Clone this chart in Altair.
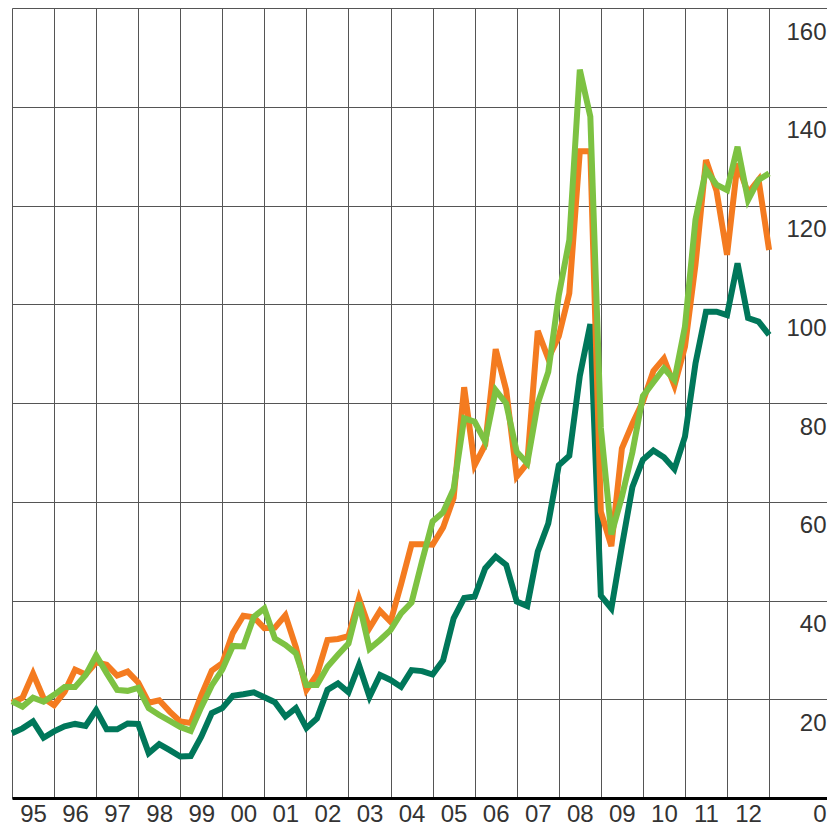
import altair as alt
import pandas as pd

# Quarterly observations, 1995 Q1 .. 2013 Q1 (73 points)
start_year = 1995
n_points = 73
periods = [start_year + i / 4 for i in range(n_points)]

orange = [19.3, 20.3, 25.2, 20.2, 18.8, 21.5, 26.0, 25.0, 27.5, 27.0,
          24.8, 25.6, 23.4, 19.3, 19.8, 17.5, 15.5, 15.2, 20.8, 25.8,
          27.3, 33.4, 36.9, 36.6, 34.4, 34.5, 37.0, 30.5, 21.9, 25.0,
          32.0, 32.2, 32.8, 40.4, 34.4, 37.9, 35.7, 43.3, 51.4, 51.4,
          51.3, 54.8, 60.8, 83.2, 67.4, 71.5, 90.9, 82.6, 65.1, 67.8,
          94.6, 89.0, 93.5, 102.2, 131.0, 131.0, 58.0, 51.0, 70.8, 75.8,
          80.3, 86.5, 89.0, 83.5, 91.4, 108.0, 129.2, 123.0, 110.0, 128.5,
          122.5, 125.2, 111.0]

light_green = [19.6, 18.5, 20.3, 19.5, 20.9, 22.5, 22.5, 24.9, 28.9, 25.3,
               21.9, 21.7, 22.3, 18.2, 16.8, 15.6, 14.4, 13.6, 18.4, 22.8,
               26.0, 30.8, 30.7, 36.7, 38.4, 32.3, 31.0, 29.3, 22.9, 22.9,
               26.6, 29.0, 31.3, 39.6, 30.2, 32.0, 34.0, 37.4, 39.6, 48.0,
               56.0, 57.9, 62.6, 76.9, 76.2, 72.2, 82.6, 79.9, 70.1, 67.8,
               79.9, 86.3, 101.8, 113.0, 147.5, 138.0, 75.0, 53.4, 61.0, 70.0,
               81.4, 84.2, 87.0, 84.7, 95.5, 117.1, 127.2, 124.2, 123.1, 131.9,
               121.1, 125.2, 126.5]

dark_green = [13.1, 14.1, 15.5, 12.2, 13.5, 14.5, 15.0, 14.6, 17.8, 13.9,
              13.9, 15.1, 15.0, 9.1, 10.9, 9.7, 8.4, 8.5, 12.4, 17.2,
              18.2, 20.7, 21.0, 21.4, 20.4, 19.4, 16.5, 18.2, 14.2, 16.1,
              21.9, 23.2, 21.4, 26.9, 20.5, 24.9, 23.9, 22.5, 25.9, 25.7,
              25.0, 27.9, 36.4, 40.5, 40.8, 46.5, 48.9, 47.2, 39.8, 38.9,
              49.9, 55.6, 67.4, 69.3, 85.5, 96.0, 41.0, 38.4, 51.0, 63.0,
              68.5, 70.4, 69.0, 66.6, 73.2, 88.0, 98.5, 98.5, 97.8, 108.3,
              97.2, 96.5, 93.8]

year_ticks = list(range(1995, 2014))
y_ticks = list(range(0, 161, 20))

series_names = ["dark", "orange", "light"]
series_values = [dark_green, orange, light_green]
series_colors = {"dark": "#00775A", "orange": "#F47B20", "light": "#7DC242"}

rows = []
for name, vals in zip(series_names, series_values):
    for t, v in zip(periods, vals):
        rows.append({"t": t, "v": v, "s": name})
df = pd.DataFrame(rows)

FONT = "Liberation Sans"
PLOT_W = 815
PLOT_H = 790

x_enc = alt.X(
    "t:Q",
    scale=alt.Scale(domain=[1995, 2014.377], nice=False, zero=False),
    axis=alt.Axis(
        values=year_ticks,
        grid=True,
        gridColor="#555555",
        gridWidth=1,
        ticks=False,
        domain=True,
        domainColor="#000000",
        domainWidth=3,
        labelExpr="datum.value < 2013 ? substring(toString(datum.value), 2) : ''",
        labelOffset=21,
        labelPadding=23,
        labelBaseline="alphabetic",
        labelFontSize=24,
        labelColor="#333333",
        labelFont=FONT,
        labelFlush=False,
        labelOverlap=False,
        labelBound=False,
        title=None,
    ),
)

y_enc = alt.Y(
    "v:Q",
    scale=alt.Scale(domain=[0, 160], nice=False),
    axis=alt.Axis(
        orient="right",
        values=y_ticks,
        grid=True,
        gridColor="#555555",
        gridWidth=1,
        ticks=False,
        domain=False,
        labelAlign="right",
        labelPadding=-1,
        labelOffset={"condition": {"test": "datum.value == 0", "value": 23}, "value": 31},
        labelBaseline="alphabetic",
        labelFontSize=24,
        labelColor="#333333",
        labelFont=FONT,
        labelFlush=False,
        labelOverlap=False,
        labelBound=False,
        title=None,
    ),
)

layers = []
for name in series_names:
    layers.append(
        alt.Chart(df)
        .transform_filter(alt.datum.s == name)
        .mark_line(strokeWidth=6, color=series_colors[name], strokeJoin="miter", strokeCap="butt")
        .encode(x=x_enc, y=y_enc, order="t:Q")
    )

chart = (
    alt.layer(*layers)
    .properties(
        width=PLOT_W,
        height=PLOT_H,
        padding={"left": 4, "top": 0, "right": 0, "bottom": 29},
        autosize=alt.AutoSizeParams(type="none"),
    )
    .configure_view(strokeWidth=0)
    .configure(background="white")
)

chart.save("out.html", embed_options={"renderer": "svg", "actions": False})
